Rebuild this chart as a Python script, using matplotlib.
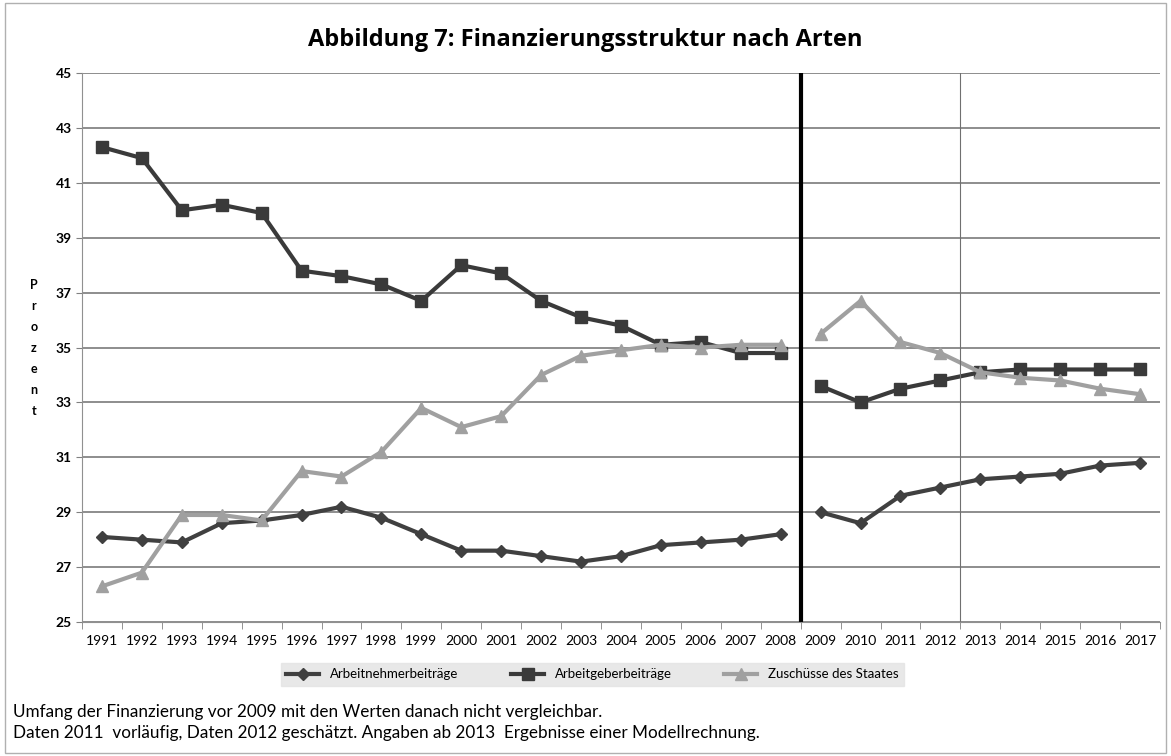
import numpy as np
import matplotlib.pyplot as plt
from matplotlib.patches import Rectangle

years = [str(y) for y in range(1991, 2018)]

# Werte bis 2008, dann Bruch, ab 2009
arbeitnehmer = [28.1, 28.0, 27.9, 28.6, 28.7, 28.9, 29.2, 28.8, 28.2, 27.6, 27.6, 27.4, 27.2, 27.4,
                27.8, 27.9, 28.0, 28.2,
                29.0, 28.6, 29.6, 29.9, 30.2, 30.3, 30.4, 30.7, 30.8]
arbeitgeber = [42.3, 41.9, 40.0, 40.2, 39.9, 37.8, 37.6, 37.3, 36.7, 38.0, 37.7, 36.7, 36.1, 35.8,
               35.1, 35.2, 34.8, 34.8,
               33.6, 33.0, 33.5, 33.8, 34.1, 34.2, 34.2, 34.2, 34.2]
zuschuesse = [26.3, 26.8, 28.9, 28.9, 28.7, 30.5, 30.3, 31.2, 32.8, 32.1, 32.5, 34.0, 34.7, 34.9,
              35.1, 35.0, 35.1, 35.1,
              35.5, 36.7, 35.2, 34.8, 34.1, 33.9, 33.8, 33.5, 33.3]
split = 18  # erster Index nach dem Bruch (2009)

plt.rcParams['font.family'] = ['Lato', 'DejaVu Sans']

fig = plt.figure(figsize=(11.71, 7.56), dpi=100)
fig.patches.append(Rectangle((0.004, 0.004), 0.992, 0.992, transform=fig.transFigure,
                             fill=False, edgecolor='#b0b0b0', linewidth=1))
ax = fig.add_axes([0.070, 0.1772, 0.9206, 0.7262])

x = np.arange(len(years))
series = [
    (arbeitnehmer, 'Arbeitnehmerbeiträge', '#404040', 'D', 6),
    (arbeitgeber, 'Arbeitgeberbeiträge', '#3a3a3a', 's', 8.5),
    (zuschuesse, 'Zuschüsse des Staates', '#a0a0a0', '^', 8.5),
]
for vals, label, col, mk, ms in series:
    v = np.array(vals)
    ax.plot(x[:split], v[:split], color=col, marker=mk, markersize=ms, linewidth=3, label=label)
    ax.plot(x[split:], v[split:], color=col, marker=mk, markersize=ms, linewidth=3)

ax.set_xlim(-0.5, len(years) - 0.5)
ax.set_ylim(25, 45)
ax.set_yticks(range(25, 46, 2))
ax.set_xticks(x)
ax.set_xticklabels(years, fontsize=10)
ax.set_xticks(np.arange(-0.5, len(years), 1), minor=True)
ax.tick_params(axis='x', which='major', length=0, pad=9)
ax.tick_params(axis='x', which='minor', length=5, color='#808080')
ax.tick_params(axis='y', length=4, color='#808080', labelsize=10)
for lab in ax.get_yticklabels():
    lab.set_fontweight('bold')
ax.grid(axis='y', color='#7a7a7a', linewidth=1.2)
ax.set_axisbelow(True)
for s in ['top', 'right']:
    ax.spines[s].set_visible(False)
ax.spines['left'].set_color('#909090')
ax.spines['bottom'].set_color('#909090')

# Bruchlinie und Beginn der Modellrechnung
ax.axvline(split - 0.5, color='black', linewidth=3)
ax.axvline(21.5, color='#707070', linewidth=0.8)

fig.text(0.5, 0.947, 'Abbildung 7: Finanzierungsstruktur nach Arten', ha='center', va='center',
         fontsize=17, fontweight='bold', family='Open Sans')
fig.text(0.029, 0.54, '\n'.join('Prozent'), ha='center', va='center', fontsize=9,
         fontweight='bold', linespacing=1.9)

leg = fig.legend(loc='center', bbox_to_anchor=(0.506, 0.108), ncol=3, fontsize=9.5,
                 frameon=True, fancybox=False, handlelength=2.5, columnspacing=4)
leg.get_frame().set_facecolor('#e3e3e3')
leg.get_frame().set_edgecolor('#e3e3e3')

fig.text(0.011, 0.058, 'Umfang der Finanzierung vor 2009 mit den Werten danach nicht vergleichbar.',
         fontsize=12.3, va='center')
fig.text(0.011, 0.030, 'Daten 2011  vorläufig, Daten 2012 geschätzt. Angaben ab 2013  Ergebnisse einer Modellrechnung.',
         fontsize=12.3, va='center')

fig.savefig('out.png', dpi=100)
